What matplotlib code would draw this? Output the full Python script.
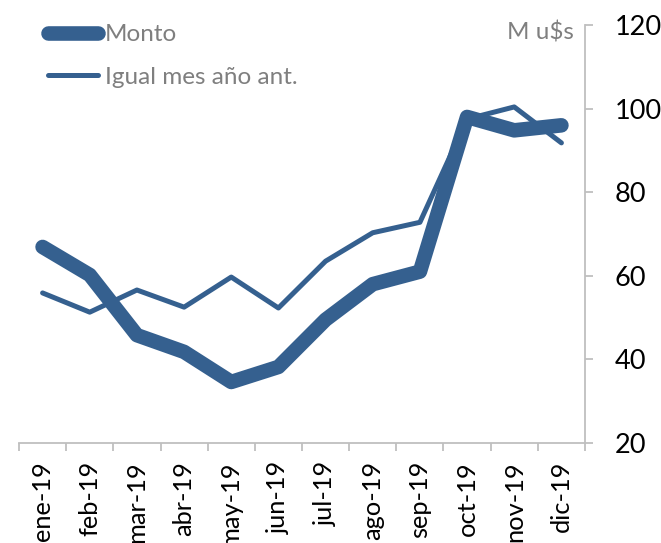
import matplotlib
matplotlib.use("Agg")
import matplotlib.pyplot as plt
from matplotlib.lines import Line2D

months = ["ene-19", "feb-19", "mar-19", "abr-19", "may-19", "jun-19",
          "jul-19", "ago-19", "sep-19", "oct-19", "nov-19", "dic-19"]
monto = [66.9, 60.2, 45.8, 41.8, 34.6, 38.2, 49.5, 58.0, 61.0, 98.0, 94.8, 96.0]
igual_mes = [55.9, 51.3, 56.6, 52.5, 59.7, 52.3, 63.5, 70.3, 72.8, 97.5, 100.4, 91.8]
yticks = [20, 40, 60, 80, 100, 120]

plt.rcParams['font.family'] = ['Lato', 'DejaVu Sans']
color = "#35608F"
gray_axis = "#BFBFBF"
gray_text = "#7F7F7F"

W, H = 661, 543
fig = plt.figure(figsize=(W / 100, H / 100), dpi=100)
left, right, bottom, top = 19 / W, 585 / W, 1 - 443 / H, 1 - 25 / H
ax = fig.add_axes([left, bottom, right - left, top - bottom])

x = list(range(len(months)))
ax.plot(x, igual_mes, color=color, lw=3.6, solid_capstyle='round', zorder=2)
ax.plot(x, monto, color=color, lw=10.5, solid_capstyle='round', zorder=3)

ax.set_xlim(-0.5, len(months) - 0.5)
ax.set_ylim(20, 120)

for s in ["left", "top"]:
    ax.spines[s].set_visible(False)
for s in ["right", "bottom"]:
    ax.spines[s].set_color(gray_axis)
    ax.spines[s].set_linewidth(1.3)

ax.yaxis.tick_right()
ax.set_yticks(yticks)
ax.tick_params(axis='y', which='major', direction='out', length=6, width=1.3,
               color=gray_axis, labelsize=19.5, pad=15.5, labelcolor='black')

ax.set_xticks([i - 0.5 for i in range(len(months) + 1)])
ax.set_xticklabels([])
ax.set_xticks(x, minor=True)
ax.set_xticklabels(months, minor=True, rotation=90, va='top', ha='center')
ax.tick_params(axis='x', which='major', direction='out', length=6, width=1.3,
               color=gray_axis)
ax.tick_params(axis='x', which='minor', length=0, labelsize=18.3, pad=13,
               labelcolor='black')

fig.text(574 / W, 1 - 32 / H, "M u$s", ha='right', va='center',
         fontsize=17.5, color=gray_text)

handles = [Line2D([], [], color=color, lw=10.5, solid_capstyle='round'),
           Line2D([], [], color=color, lw=3.6, solid_capstyle='round')]
leg = fig.legend(handles, ["Monto", "Igual mes año ant."], loc='upper left',
                 bbox_to_anchor=(48 / W, 1 - 24 / H), frameon=False,
                 fontsize=17.5, handlelength=2.05, handletextpad=0.3,
                 labelspacing=0.9, borderaxespad=0, borderpad=0)
for t in leg.get_texts():
    t.set_color(gray_text)

fig.savefig("out.png", dpi=100, facecolor='white')
